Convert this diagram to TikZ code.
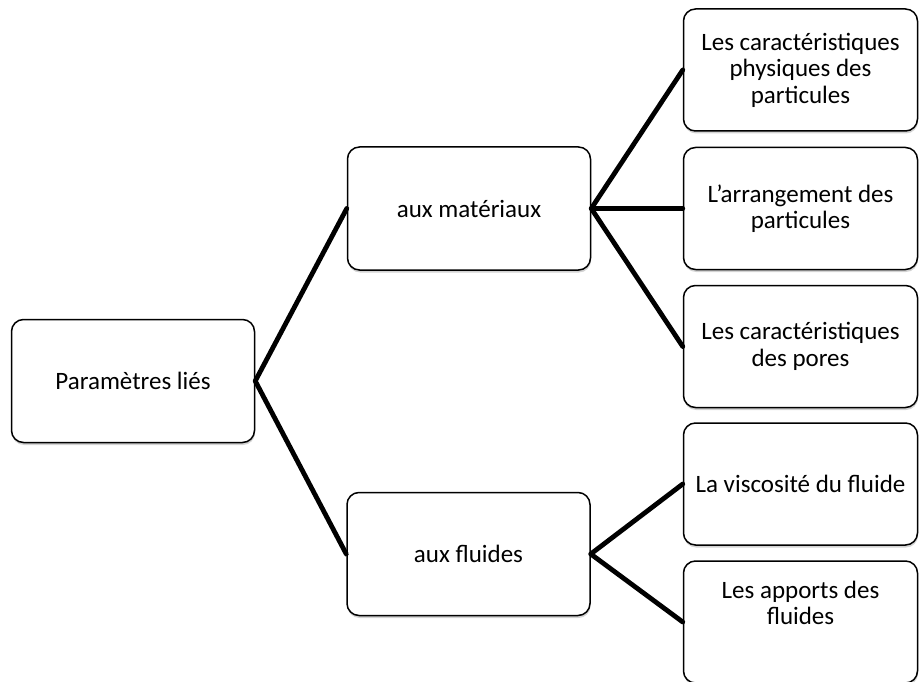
\documentclass[tikz,border=0pt]{standalone}
\usepackage{fontspec}
\setmainfont{Carlito}
\usetikzlibrary{shadows}
\begin{document}
\begin{tikzpicture}[x=1pt,y=-1pt,line width=1.5pt,font=\fontsize{25}{26.5}\selectfont, line join=round, line cap=round,
	boite/.style={draw,rounded corners=12pt,fill=white,align=center,inner sep=2pt,
		drop shadow={opacity=0.35,shadow xshift=0.5pt,shadow yshift=-2.5pt}},
	gauche/.style={boite,minimum width=243pt,minimum height=123pt},
	droite/.style={boite,minimum width=234pt,minimum height=122pt},
	lien/.style={line width=4.8pt}]
				\useasboundingbox (0,0) rectangle (919,682);
				\node[gauche] (P) at (133,381) {Paramètres liés};
				\node[gauche] (M) at (469,208.5) {aux matériaux};
				\node[gauche] (F) at (468.5,554) {aux fluides};
				\node[droite] (R1) at (800.5,70) {Les caractéristiques\\physiques des\\particules};
				\node[droite] (R2) at (800.5,208.5) {L’arrangement des\\particules};
				\node[droite] (R3) at (800.5,346.5) {Les caractéristiques\\des pores};
				\node[droite] (R4) at (800.5,484) {La viscosité du fluide};
				\node[droite,text depth=38pt] (R5) at (800.5,622) {Les apports des\\fluides};
				\draw[lien] (P.east)--(M.west) (P.east)--(F.west);
				\draw[lien] (M.east)--(R1.west) (M.east)--(R2.west) (M.east)--(R3.west);
				\draw[lien] (F.east)--(R4.west) (F.east)--(R5.west);
			\end{tikzpicture}
\end{document}
